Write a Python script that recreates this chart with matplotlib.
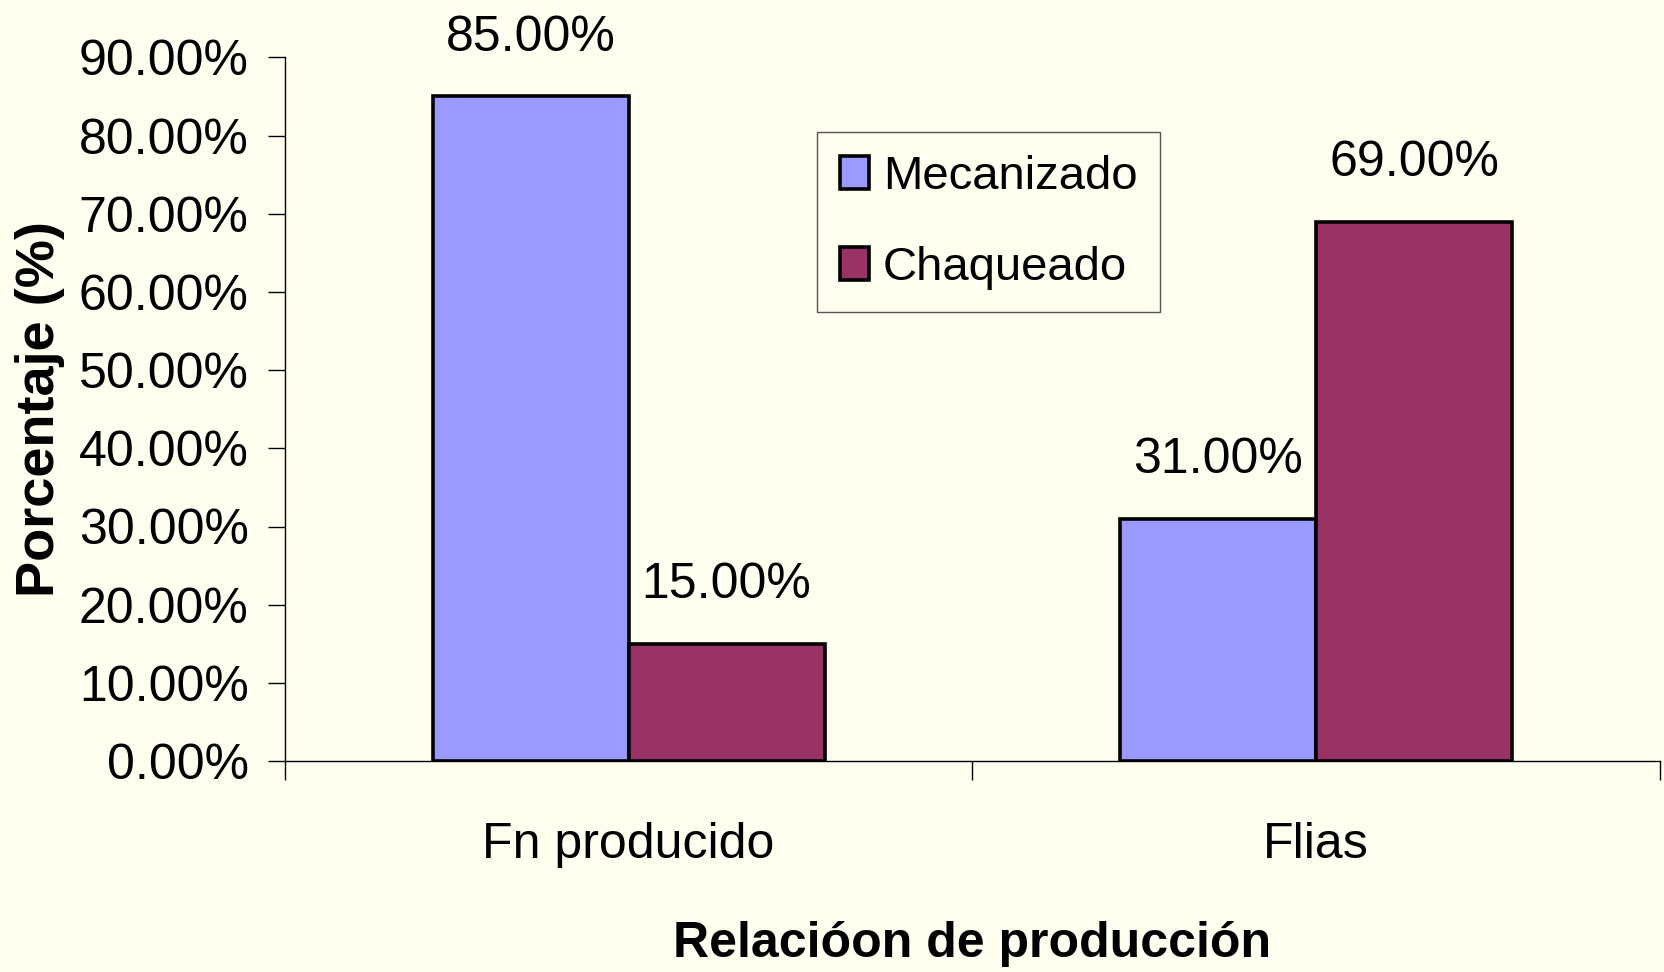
import numpy as np
import matplotlib.pyplot as plt
from matplotlib.ticker import FixedLocator, PercentFormatter

# data
categories = ["Fn producido", "Flias"]
series_names = ["Mecanizado", "Chaqueado"]
mecanizado = [85.0, 31.0]
chaqueado = [15.0, 69.0]
y_ticks = np.arange(0, 100, 10)

bg = "#FFFFF0"
colors = ["#9999FF", "#993366"]

plt.rcParams["font.family"] = ["Liberation Sans", "DejaVu Sans"]

fig = plt.figure(figsize=(16.65, 9.72), dpi=100, facecolor=bg)
ax = fig.add_axes([0.171, 0.217, 0.826, 0.724], facecolor=bg)

x = np.arange(len(categories))
w = 0.285
for i, (vals, name) in enumerate(zip([mecanizado, chaqueado], series_names)):
    bars = ax.bar(x + (i - 0.5) * w, vals, width=w, color=colors[i],
                  edgecolor="black", linewidth=2.6, label=name)
    for b, v in zip(bars, vals):
        ax.annotate(f"{v:.2f}%", (b.get_x() + b.get_width() / 2, v),
                    xytext=(0, 42), textcoords="offset points",
                    ha="center", va="center", fontsize=36)

ax.set_xlim(-0.5, 1.5)
ax.set_ylim(0, 90)
ax.yaxis.set_major_locator(FixedLocator(y_ticks))
ax.yaxis.set_major_formatter(PercentFormatter(decimals=2))
ax.tick_params(axis="y", labelsize=36, length=12, width=1, pad=14)

# category boundaries as ticks, labels in the middle
ax.set_xticks([-0.5, 0.5, 1.5])
ax.set_xticklabels([])
ax.tick_params(axis="x", which="major", length=14, width=1)
ax.set_xticks(x, minor=True)
ax.set_xticklabels(categories, minor=True)
ax.tick_params(axis="x", which="minor", length=0, labelsize=36, pad=44)

for s in ["top", "right"]:
    ax.spines[s].set_visible(False)
for s in ["left", "bottom"]:
    ax.spines[s].set_linewidth(1)

ax.set_ylabel("Porcentaje (%)", fontsize=39, fontweight="bold", labelpad=10)
ax.set_xlabel("Relacióon de producción", fontsize=36, fontweight="bold", labelpad=38)

leg = ax.legend(loc="upper left", bbox_to_anchor=(0.387, 0.894), fontsize=34,
                frameon=True, fancybox=False, facecolor=bg, edgecolor="#555555",
                handlelength=0.62, handleheight=0.7, handletextpad=0.3,
                labelspacing=1.0, borderpad=0.48, borderaxespad=0, framealpha=1)
leg.get_frame().set_linewidth(1)
for h in leg.legend_handles:
    h.set_linewidth(2.6)

fig.savefig("out.png", dpi=100, facecolor=bg)
